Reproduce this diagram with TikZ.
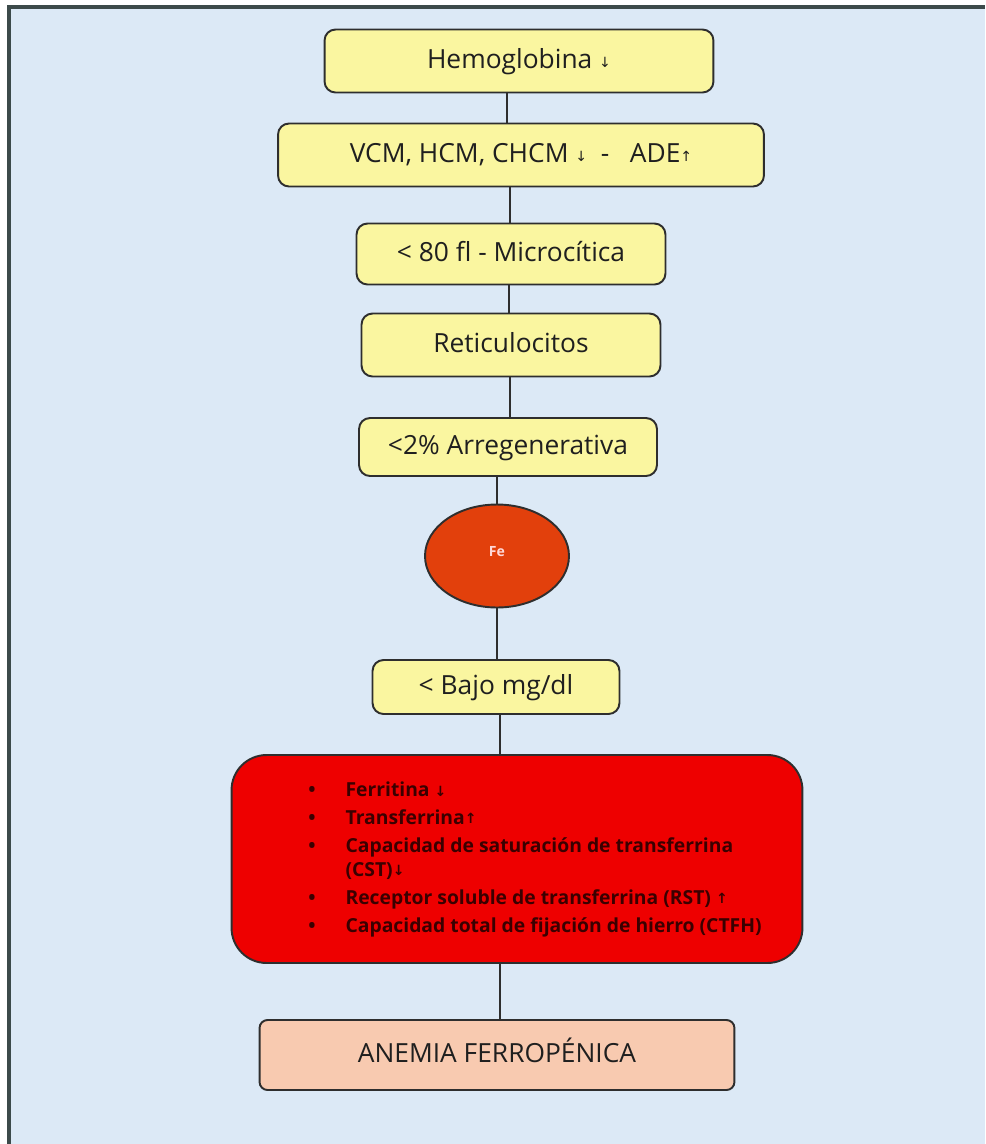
\documentclass[tikz,border=0pt]{standalone}
\usepackage{fontspec}
\setmainfont{Open Sans}
\newfontfamily\arrowfont{DejaVu Sans}
\usetikzlibrary{shapes.geometric}
\definecolor{bgblue}{HTML}{DCE9F6}
\definecolor{boxyellow}{HTML}{FAF6A0}
\definecolor{edgegray}{HTML}{2E2E2E}
\definecolor{feorange}{HTML}{E2400C}
\definecolor{labred}{HTML}{EE0000}
\definecolor{labtext}{HTML}{3A0000}
\definecolor{peach}{HTML}{F8CAB0}
\definecolor{framegray}{HTML}{3C4A4A}
\newcommand{\dn}{{\arrowfont\footnotesize\raisebox{0.1ex}{↓}}}
\newcommand{\up}{{\arrowfont\footnotesize\raisebox{0.1ex}{↑}}}
\begin{document}
\begin{tikzpicture}[x=0.02cm, y=-0.02cm,
  stepbox/.style={draw=edgegray, line width=1.1pt, fill=boxyellow, rounded corners=0.22cm,
    text=black!88, font=\fontsize{15}{18}\selectfont, inner sep=0pt, text height=1.05em, text depth=0.25em},
  link/.style={draw=edgegray, line width=1.1pt}]
  \useasboundingbox (0,0) rectangle (985,1144);
  \fill[bgblue] (8,6) rectangle (985,1144);
  \draw[framegray, line width=1.8pt] (9,1144) -- (9,7) -- (985,7);

  \node[stepbox, minimum width=7.78cm, minimum height=1.26cm] (hb) at (519,61) {Hemoglobina \dn};
  \node[stepbox, minimum width=9.72cm, minimum height=1.26cm] (vcm) at (521,155) {VCM, HCM, CHCM \dn\ \ -\ \ \ ADE\up};
  \node[stepbox, minimum width=6.18cm, minimum height=1.22cm] (micro) at (511,254) {< 80 fl - Microcítica};
  \node[stepbox, minimum width=5.98cm, minimum height=1.26cm] (ret) at (511,345) {Reticulocitos};
  \node[stepbox, minimum width=5.96cm, minimum height=1.16cm] (arreg) at (508,447) {<2\% Arregenerativa};
  \node[ellipse, draw=edgegray, line width=1.1pt, fill=feorange, minimum width=2.88cm, minimum height=2.06cm,
    inner sep=0pt, text=red!15, font=\bfseries\fontsize{8}{9}\selectfont] (fe) at (497,556) {\raisebox{1.2ex}{Fe}};
  \node[stepbox, minimum width=4.94cm, minimum height=1.08cm] (bajo) at (496,687) {< Bajo mg/dl};
  \node[draw=edgegray, line width=1.1pt, fill=labred, rounded corners=0.7cm, minimum width=11.42cm,
    minimum height=4.16cm, inner sep=0pt, text=labtext, font=\bfseries\fontsize{11}{15.8}\selectfont] (lab) at (517,859)
    {\hspace*{0.72cm}\begin{tabular}{@{}l@{\hspace{0.6cm}}l@{}}
      \textbullet & Ferritina \dn\\
      \textbullet & Transferrina\up\\
      \textbullet & Capacidad de saturación de transferrina\\[-2pt]
                  & (CST)\dn\\
      \textbullet & Receptor soluble de transferrina (RST) \up\\
      \textbullet & Capacidad total de fijación de hierro (CTFH)
    \end{tabular}};
  \node[draw=edgegray, line width=1.1pt, fill=peach, rounded corners=0.16cm, minimum width=9.5cm,
    minimum height=1.4cm, inner sep=0pt, text=black!88, font=\fontsize{15}{18}\selectfont,
    text height=1.05em, text depth=0.25em] (anemia) at (497,1055) {ANEMIA FERROPÉNICA};

  \draw[link] (hb.south -| 507,0) -- (vcm.north -| 507,0);
  \draw[link] (vcm.south -| 510,0) -- (micro.north -| 510,0);
  \draw[link] (micro.south -| 509,0) -- (ret.north -| 509,0);
  \draw[link] (ret.south -| 510,0) -- (arreg.north -| 510,0);
  \draw[link] (arreg.south -| 497,0) -- (fe.north);
  \draw[link] (fe.south) -- (bajo.north -| 497,0);
  \draw[link] (bajo.south -| 500,0) -- (lab.north -| 500,0);
  \draw[link] (lab.south -| 500,0) -- (anemia.north -| 500,0);
\end{tikzpicture}
\end{document}
